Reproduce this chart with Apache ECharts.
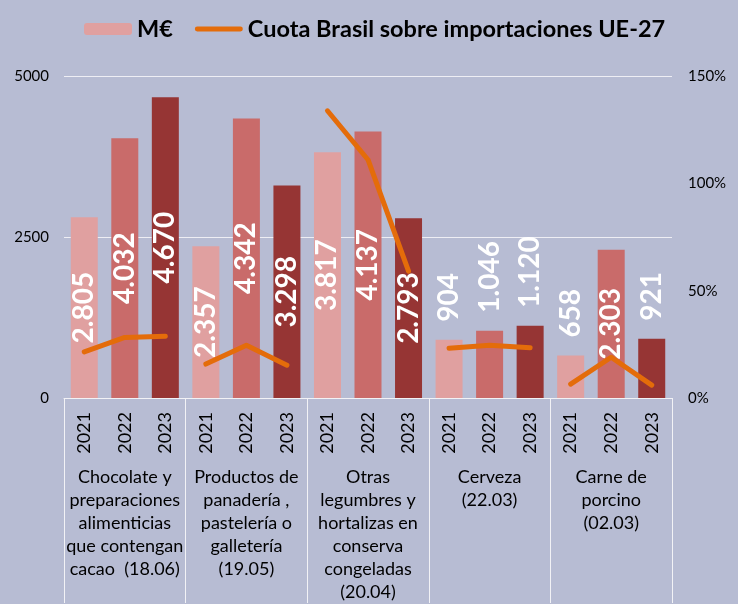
<html>
<head>
<meta charset="utf-8">
<title>Importaciones UE-27 desde Brasil</title>
<script src="https://cdn.jsdelivr.net/npm/echarts@6/dist/echarts.min.js"></script>
<style>
    html, body { margin: 0; padding: 0; background: #b7bcd3; }
    #main { width: 738px; height: 604px; }
</style>
</head>
<body>
<div id="main"></div>
<script type="text/javascript">
// datos del gráfico
var years = ['2021', '2022', '2023'];
var groups = [
    'Chocolate y\npreparaciones\nalimenticias\nque contengan\ncacao  (18.06)',
    'Productos de\npanadería ,\npastelería o\ngalletería\n(19.05)',
    'Otras\nlegumbres y\nhortalizas en\nconserva\ncongeladas\n(20.04)',
    'Cerveza\n(22.03)',
    'Carne de\nporcino\n(02.03)'
];
// M€ por grupo y año
var valores = [2805, 4032, 4670, 2357, 4342, 3298, 3817, 4137, 2793, 904, 1046, 1120, 658, 2303, 921];
// cuota Brasil (%)
var cuota = [21.5, 28.2, 28.8, 15.8, 24.6, 15.3, 133.8, 111, 59.1, 23.2, 24.6, 23.4, 6.5, 19, 6];
var leftTicks = [0, 2500, 5000];
var rightTicks = [0, 50, 100, 150];

var yearColors = ['#e0a0a0', '#c96b6a', '#963534'];
var nombreLinea = 'Cuota Brasil sobre importaciones UE-27';

var cats = [];
for (var g = 0; g < groups.length; g++) {
    for (var y = 0; y < years.length; y++) cats.push(years[y]);
}

function fmt(v) {
    var s = String(v);
    if (s.length > 3) s = s.slice(0, s.length - 3) + '.' + s.slice(s.length - 3);
    return s;
}

var barData = valores.map(function (v, i) {
    var big = v >= 2000;
    return {
        value: v,
        itemStyle: { color: yearColors[i % 3] },
        label: big ? { position: 'inside', rotate: 90, align: 'center', verticalAlign: 'middle' }
                   : { position: 'top', rotate: 90, align: 'left', verticalAlign: 'middle', distance: 18 }
    };
});

var series = [{
    name: 'M€',
    type: 'bar',
    barWidth: 27,
    itemStyle: { color: yearColors[0] },
    label: {
        show: true,
        color: '#fff',
        fontFamily: 'Lato',
        fontWeight: 'bold',
        fontSize: 28,
        formatter: function (p) { return fmt(p.value); }
    },
    data: barData
}];

// una línea por grupo, sin unir grupos
for (var k = 0; k < groups.length; k++) {
    var d = cuota.map(function (v, i) { return Math.floor(i / 3) === k ? v : '-'; });
    series.push({
        name: nombreLinea,
        type: 'line',
        yAxisIndex: 1,
        symbol: 'none',
        lineStyle: { color: '#e46c0a', width: 5, cap: 'round', join: 'round' },
        itemStyle: { color: '#e46c0a' },
        z: 5,
        data: d
    });
}

var myChart = echarts.init(document.getElementById('main'));
var option = {
    backgroundColor: '#b7bcd3',
    animation: false,
    textStyle: { fontFamily: 'Lato' },
    legend: {
        data: [
            { name: 'M€' },
            { name: nombreLinea, icon: 'path://M2.5,0 L47.5,0 A2.5,2.5 0 0 1 47.5,5 L2.5,5 A2.5,2.5 0 0 1 2.5,0 Z' }
        ],
        left: 84,
        top: 17,
        padding: 0,
        itemWidth: 48,
        itemHeight: 12,
        itemGap: 22,
        textStyle: { fontFamily: 'Lato', fontWeight: 'bold', fontSize: 23.5, color: '#000' }
    },
    grid: { left: 64, right: 66, top: 76, bottom: 205 },
    xAxis: [{
        type: 'category',
        data: cats,
        axisLine: { show: true, lineStyle: { color: '#f2f2f6', width: 1 } },
        axisTick: { show: false },
        axisLabel: { interval: 0, rotate: 90, margin: 14, fontSize: 18, color: '#000', fontFamily: 'Lato' }
    }, {
        type: 'category',
        data: groups,
        position: 'bottom',
        axisLine: { show: false },
        axisTick: { show: true, length: 205, lineStyle: { color: '#f2f2f6', width: 1 } },
        axisLabel: { interval: 0, margin: 68, fontSize: 18, lineHeight: 23, color: '#000', fontFamily: 'Lato', align: 'center' }
    }],
    yAxis: [{
        type: 'value',
        min: leftTicks[0],
        max: leftTicks[leftTicks.length - 1],
        interval: 2500,
        axisLine: { show: false },
        axisTick: { show: false },
        splitLine: { lineStyle: { color: '#eeeef4', width: 1 } },
        axisLabel: { margin: 15, fontSize: 15, color: '#000', fontFamily: 'Lato', formatter: function (v) { return String(v); } }
    }, {
        type: 'value',
        min: rightTicks[0],
        max: rightTicks[rightTicks.length - 1],
        interval: 50,
        axisLine: { show: false },
        axisTick: { show: false },
        splitLine: { show: false },
        axisLabel: { margin: 16, fontSize: 15, color: '#000', fontFamily: 'Lato', formatter: '{value}%' }
    }],
    series: series
};
myChart.setOption(option);
</script>
</body>
</html>
